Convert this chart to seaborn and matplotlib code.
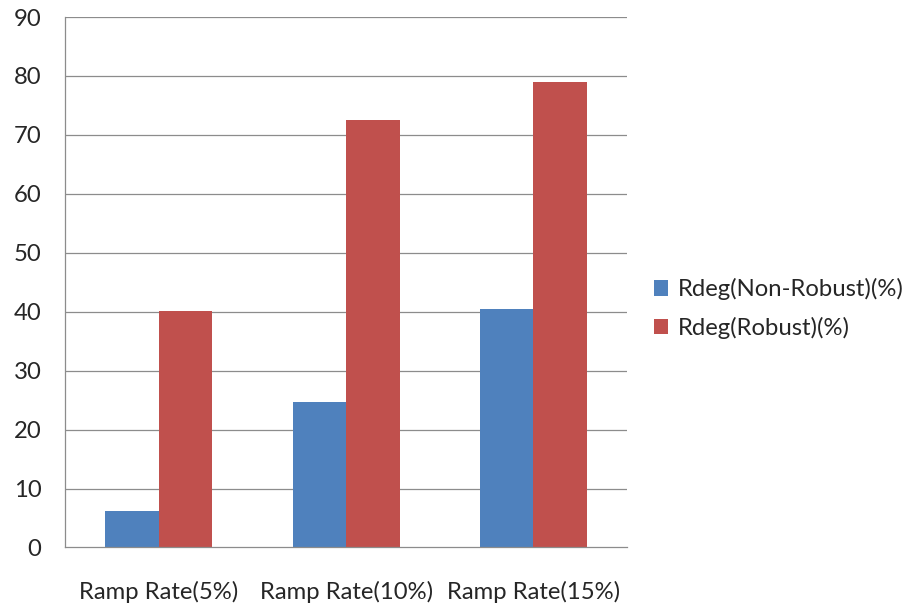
import matplotlib
matplotlib.use("Agg")
import matplotlib.pyplot as plt
import seaborn as sns
import pandas as pd

categories = ["Ramp Rate(5%)", "Ramp Rate(10%)", "Ramp Rate(15%)"]
series_names = ["Rdeg(Non-Robust)(%)", "Rdeg(Robust)(%)"]
non_robust = [6.2, 24.7, 40.4]
robust = [40.2, 72.6, 79.0]
y_ticks = [0, 10, 20, 30, 40, 50, 60, 70, 80, 90]

colors = ["#4F81BD", "#C0504D"]

sns.set_theme(style="white")
plt.rcParams["font.family"] = ["Lato", "DejaVu Sans"]

df = pd.DataFrame({
    "category": categories * 2,
    "series": [series_names[0]] * 3 + [series_names[1]] * 3,
    "value": non_robust + robust,
})

fig = plt.figure(figsize=(9.13, 6.09), dpi=100)
ax = fig.add_axes([0.0712, 0.101, 0.6157, 0.871])

sns.barplot(data=df, x="category", y="value", hue="series", order=categories,
            hue_order=series_names, palette=colors, width=0.571,
            saturation=1, ax=ax, edgecolor="none", linewidth=0)

grid_c = "#8C8C8C"
fs = 17.2
ax.set_ylim(0, 90)
ax.set_xlim(-0.5, 2.5)
ax.set_yticks(y_ticks)
ax.set_yticklabels([str(v) for v in y_ticks], fontsize=fs)
for v in y_ticks[1:]:
    ax.axhline(v, color=grid_c, lw=0.9, zorder=0)
ax.set_axisbelow(True)

for s in ["top", "right"]:
    ax.spines[s].set_visible(False)
for s in ["left", "bottom"]:
    ax.spines[s].set_color(grid_c)
    ax.spines[s].set_linewidth(0.9)

ax.tick_params(axis="y", length=6, width=0.9, color=grid_c, pad=11, labelsize=fs)
ax.tick_params(axis="x", which="major", length=0, pad=24, labelsize=fs)
ax.set_xticks([-0.5, 0.5, 1.5, 2.5], minor=True)
ax.tick_params(axis="x", which="minor", length=6, width=0.9, color=grid_c)
ax.set_xlabel("")
ax.set_ylabel("")

handles, labels = ax.get_legend_handles_labels()
ax.legend(handles, labels, loc="center left", bbox_to_anchor=(0.703, 0.493),
          bbox_transform=fig.transFigure, frameon=False, fontsize=fs,
          handlelength=0.6, handleheight=0.6, handletextpad=0.4,
          labelspacing=0.7, borderpad=0)

fig.savefig("out.png", dpi=100)
